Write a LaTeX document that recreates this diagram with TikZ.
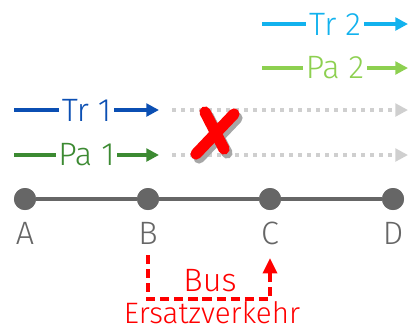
\documentclass[tikz,border=0pt]{standalone}
\usepackage{fontspec}
\setmainfont{Fira Sans}[UprightFont=* Light]
\usepackage{tikz}
\usetikzlibrary{arrows.meta}

\definecolor{trOne}{HTML}{0B4FB3}
\definecolor{paOne}{HTML}{3C8A32}
\definecolor{trTwo}{HTML}{12B2EE}
\definecolor{paTwo}{HTML}{8DD050}
\definecolor{stationgray}{HTML}{666666}
\definecolor{cancelgray}{HTML}{CFCFCF}

\begin{document}
\begin{tikzpicture}[
    x=0.025cm, y=-0.025cm,
    font=\fontsize{23}{25}\selectfont,
    station/.style={circle,fill=stationgray,minimum size=0.55cm,inner sep=0pt},
    station label/.style={text=stationgray},
    track/.style={line width=2.8pt,stationgray},
    train/.style={line width=2.9pt,-{Triangle[length=9pt,width=9pt]}},
    train label/.style={fill=white,inner sep=2pt,midway},
    cancelled/.style={line width=2.8pt,cancelgray,dash pattern=on 2.8pt off 3.6pt,
        -{Triangle[length=9pt,width=9pt,fill=cancelgray]}},
    bus/.style={line width=2.3pt,red,dash pattern=on 6.5pt off 3.5pt,
        -{Triangle[length=11pt,width=10pt]}},
    cross/.style={line width=8pt,red,line cap=round},
    cross shadow/.style={line width=8pt,black!35,line cap=round}
    ]
    \useasboundingbox (0,0) rectangle (411,332);
    % stations
    \node [station] (A) at (25,199) {};
    \node [station] (B) at (148,199) {};
    \node [station] (C) at (270,199) {};
    \node [station] (D) at (393,199) {};
    \draw [track] (A) -- (B) -- (C) -- (D);
    \node [station] at (A) {};
    \node [station] at (B) {};
    \node [station] at (C) {};
    \node [station] at (D) {};
    % station names
    \node [station label] (labA) at (25,233) {A};
    \node [station label] (labB) at (148,233) {B};
    \node [station label] (labC) at (270,233) {C};
    \node [station label] (labD) at (393,233) {D};
    % trains A - B
    \coordinate (tr1 start) at (14,110);
    \coordinate (tr1 end) at (159,110);
    \coordinate (pa1 start) at (14,155);
    \coordinate (pa1 end) at (159,155);
    \draw [train,trOne] (tr1 start) -- (tr1 end) node [train label] (tr1) {Tr 1};
    \draw [train,paOne] (pa1 start) -- (pa1 end) node [train label] (pa1) {Pa 1};
    % trains C - D
    \coordinate (tr2 start) at (262,24);
    \coordinate (tr2 end) at (408,24);
    \coordinate (pa2 start) at (262,68);
    \coordinate (pa2 end) at (408,68);
    \draw [train,trTwo] (tr2 start) -- (tr2 end) node [train label] (tr2) {Tr 2};
    \draw [train,paTwo] (pa2 start) -- (pa2 end) node [train label] (pa2) {Pa 2};
    % cancelled runs B - D
    \coordinate (tr1 off start) at (172,110);
    \coordinate (tr1 off end) at (408,110);
    \coordinate (pa1 off start) at (172,155);
    \coordinate (pa1 off end) at (408,155);
    \draw [cancelled] (tr1 off start) -- (tr1 off end);
    \draw [cancelled] (pa1 off start) -- (pa1 off end);
    % red cross
    \draw [cross shadow] (208,116) -- (227,153);
    \draw [cross shadow] (199,158) -- (237,118);
    \draw [cross] (205,112) -- (224,149);
    \draw [cross] (196,154) -- (234,114);
    % rail replacement bus
    \coordinate (bus start) at (148,255);
    \coordinate (bus end) at (270,258);
    \draw [bus] (bus start) |- (210,299) -| (bus end);
    \node [red] (bus) at (210,281) {Bus};
    \node [red,anchor=base,font=\fontsize{21}{23}\selectfont] (replacement) at (212,323) {Ersatzverkehr};
\end{tikzpicture}
\end{document}
